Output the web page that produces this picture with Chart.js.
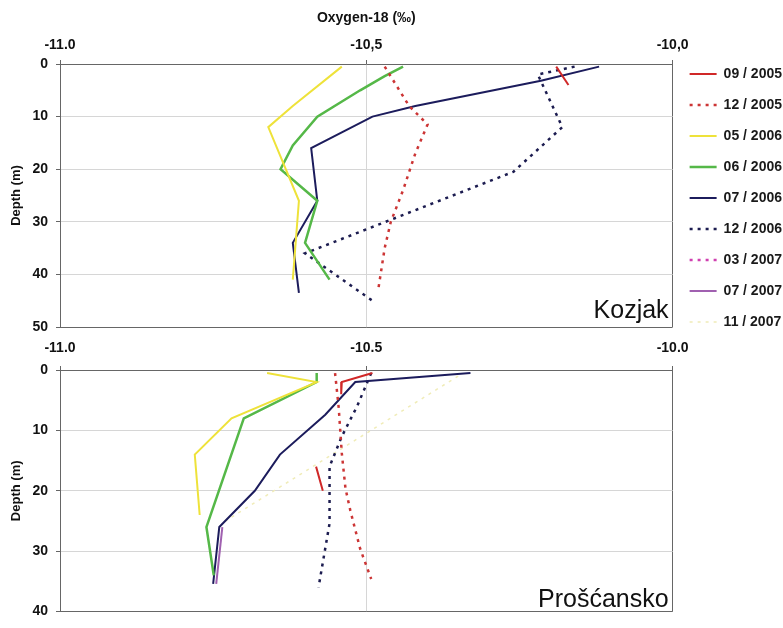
<!DOCTYPE html>
<html lang="en">
<head>
<meta charset="UTF-8">
<title>Oxygen-18 depth profiles - Kozjak and Prošćansko</title>
<script src="https://cdn.jsdelivr.net/npm/chart.js"></script>
<style>
  html, body { margin: 0; padding: 0; background: #fff; overflow: hidden; width: 783px; height: 628px; }
  #topWrap { position: absolute; left: 0; top: 0; width: 792px; height: 360px; }
  #bottomWrap { position: absolute; left: 0; top: 330px; width: 783px; height: 298px; z-index: 2; }
</style>
</head>
<body>

<div id="topWrap"><canvas id="kozjakChart"></canvas></div>
<div id="bottomWrap"><canvas id="proscanskoChart"></canvas></div>

<script>
// legend / series names
const seriesNames = ['09 / 2005', '12 / 2005', '05 / 2006', '06 / 2006', '07 / 2006',
                     '12 / 2006', '03 / 2007', '07 / 2007', '11 / 2007'];

// axis tick labels
const kozjakTickLabels = ['-11.0', '-10,5', '-10,0'];
const proscTickLabels = ['-11.0', '-10.5', '-10.0'];

// ---- Kozjak : oxygen-18 (permil) and depth (m) ----
const kozSep05O18 = [-10.19, -10.17];
const kozSep05Depth = [0.5, 4];
const kozDec05O18 = [-10.47, -10.43, -10.40, -10.42, -10.44, -10.46, -10.47, -10.48];
const kozDec05Depth = [0.5, 8, 11.5, 17, 24, 30, 35, 42.5];
const kozMay06O18 = [-10.54, -10.62, -10.66, -10.61, -10.62];
const kozMay06Depth = [0.5, 8, 12, 26, 41];
const kozJun06O18 = [-10.44, -10.47, -10.51, -10.58, -10.62, -10.64, -10.58, -10.60, -10.56];
const kozJun06Depth = [0.5, 2.3, 5, 10, 15.5, 20, 26, 34, 41];
const kozJul06O18 = [-10.12, -10.215, -10.42, -10.49, -10.59, -10.58, -10.62, -10.61];
const kozJul06Depth = [0.5, 3.2, 8, 10, 16, 26, 34, 43.5];
const kozDec06O18 = [-10.16, -10.22, -10.18, -10.26, -10.60, -10.49];
const kozDec06Depth = [0.5, 2, 12, 20.5, 36, 45];

// ---- Prošćansko ----
const proSep05O18 = [-10.49, -10.54, -10.541, null, -10.582, -10.571];
const proSep05Depth = [0.5, 2, 4, null, 16, 20];
const proDec05O18 = [-10.551, -10.545, -10.54, -10.534, -10.526, -10.51, -10.492];
const proDec05Depth = [0.5, 6.3, 13.8, 19.6, 23.3, 29.6, 34.6];
const proMay06O18 = [-10.662, -10.581, -10.72, -10.78, -10.772];
const proMay06Depth = [0.5, 2, 8, 14, 24];
const proJun06O18 = [-10.581, -10.581, -10.70, -10.761, -10.749];
const proJun06Depth = [0.5, 2, 8, 26, 34];
const proJul06O18 = [-10.33, -10.518, -10.567, -10.641, -10.682, -10.74, -10.75];
const proJul06Depth = [0.5, 2, 7.4, 14, 20, 26, 35.4];
const proDec06O18 = [-10.492, -10.515, -10.54, -10.56, -10.56, -10.578];
const proDec06Depth = [0.5, 6, 11, 16, 25.4, 36];
const proJul07O18 = [-10.735, -10.745];
const proJul07Depth = [26, 35.4];
const proNov07O18 = [-10.35, -10.73];
const proNov07Depth = [1, 25];

// line styles per series (same order as seriesNames)
const seriesStyles = [
  { color: '#d02828', width: 2, dash: [] },
  { color: '#cc3535', width: 2.5, dash: [3, 5] },
  { color: '#eee23a', width: 2, dash: [] },
  { color: '#55b848', width: 2.5, dash: [] },
  { color: '#1c1c5c', width: 2, dash: [] },
  { color: '#1c1c50', width: 2.5, dash: [3, 5] },
  { color: '#d040b0', width: 2.5, dash: [3, 5] },
  { color: '#a060b0', width: 2, dash: [] },
  { color: '#f0ecb8', width: 1.5, dash: [3, 5] }
];

const FONT = 'Arial, "Liberation Sans", Helvetica, sans-serif';

function toPoints(o18, depth) {
  return o18.map((v, i) => ({ x: v, y: depth[i] }));
}

function makeDatasets(series) {
  return seriesNames.map((name, i) => ({
    label: name,
    data: series[i] ? toPoints(series[i][0], series[i][1]) : [],
    borderColor: seriesStyles[i].color,
    backgroundColor: seriesStyles[i].color,
    borderWidth: seriesStyles[i].width,
    borderDash: seriesStyles[i].dash,
    pointRadius: 0,
    tension: 0,
    fill: false
  }));
}

// site name inside the plot, bottom right
const siteLabel = {
  id: 'siteLabel',
  afterDatasetsDraw(chart, args, opts) {
    const { ctx, chartArea } = chart;
    ctx.save();
    ctx.font = '25px ' + FONT;
    ctx.fillStyle = '#111';
    ctx.textAlign = 'right';
    ctx.textBaseline = 'alphabetic';
    ctx.fillText(opts.text, chartArea.right - 4, chartArea.bottom - opts.lift);
    ctx.restore();
  }
};

function xScale(tickLabels, height, withTitle) {
  return {
    type: 'linear',
    position: 'top',
    min: -11,
    max: -10,
    ticks: {
      stepSize: 0.5,
      padding: withTitle ? 6 : 9,
      color: '#111',
      font: { family: FONT, size: 14, weight: 'bold' },
      callback: (v, i) => tickLabels[i]
    },
    grid: {
      color: c => (c.tick && c.tick.value === -10) ? '#666' : '#d6d6d6',
      tickColor: '#666',
      tickLength: 4
    },
    border: { display: true, color: '#666', width: 1 },
    title: {
      display: withTitle,
      text: 'Oxygen-18 (‰)',
      color: '#111',
      font: { family: FONT, size: 14, weight: 'bold' },
      padding: { top: 10, bottom: 0 }
    },
    afterFit(s) { s.height = height; }
  };
}

function yScale(maxDepth) {
  return {
    type: 'linear',
    position: 'left',
    reverse: true,
    min: 0,
    max: maxDepth,
    ticks: {
      stepSize: 10,
      padding: 8,
      color: '#111',
      font: { family: FONT, size: 14, weight: 'bold' }
    },
    grid: {
      color: c => (c.tick && c.tick.value === maxDepth) ? '#666' : '#d6d6d6',
      tickColor: '#666',
      tickLength: 4
    },
    border: { display: true, color: '#666', width: 1 },
    title: {
      display: true,
      text: 'Depth (m)',
      color: '#111',
      font: { family: FONT, size: 13, weight: 'bold' },
      padding: { top: 9, bottom: 0 }
    },
    afterFit(s) { s.width = 60; }
  };
}

// Kozjak (top, carries the legend)
const kozjakChart = new Chart(document.getElementById('kozjakChart'), {
  type: 'line',
  data: {
    datasets: makeDatasets([
      [kozSep05O18, kozSep05Depth],
      [kozDec05O18, kozDec05Depth],
      [kozMay06O18, kozMay06Depth],
      [kozJun06O18, kozJun06Depth],
      [kozJul06O18, kozJul06Depth],
      [kozDec06O18, kozDec06Depth],
      null, null, null
    ])
  },
  options: {
    responsive: true,
    maintainAspectRatio: false,
    animation: false,
    layout: { padding: 0 },
    scales: {
      x: xScale(kozjakTickLabels, 64, true),
      y: yScale(50),
      xb: {
        type: 'linear',
        position: 'bottom',
        display: true,
        min: 0,
        max: 1,
        grid: { display: false },
        border: { display: false },
        ticks: { display: false },
        afterFit(s) { s.height = 33; }
      }
    },
    plugins: {
      tooltip: { enabled: false },
      siteLabel: { text: 'Kozjak', lift: 9 },
      legend: {
        position: 'right',
        align: 'start',
        title: { display: true, text: ' ', font: { size: 10 }, padding: { top: 38, bottom: 0 } },
        labels: {
          color: '#1a1a1a',
          font: { family: FONT, size: 14, weight: 'bold' },
          padding: 17,
          usePointStyle: true,
          pointStyle: 'line',
          pointStyleWidth: 27,
          generateLabels(chart) {
            return chart.data.datasets.map((ds, i) => ({
              text: ds.label,
              fillStyle: ds.borderColor,
              strokeStyle: ds.borderColor,
              lineWidth: ds.borderWidth,
              lineDash: ds.borderDash,
              fontColor: '#1a1a1a',
              pointStyle: 'line',
              hidden: false,
              datasetIndex: i
            }));
          }
        }
      }
    }
  },
  plugins: [siteLabel]
});

// Prošćansko (bottom), right edge lined up with the Kozjak plot
const rightPad = 783 - kozjakChart.chartArea.right;

new Chart(document.getElementById('proscanskoChart'), {
  type: 'line',
  data: {
    datasets: makeDatasets([
      [proSep05O18, proSep05Depth],
      [proDec05O18, proDec05Depth],
      [proMay06O18, proMay06Depth],
      [proJun06O18, proJun06Depth],
      [proJul06O18, proJul06Depth],
      [proDec06O18, proDec06Depth],
      null,
      [proJul07O18, proJul07Depth],
      [proNov07O18, proNov07Depth]
    ])
  },
  options: {
    responsive: true,
    maintainAspectRatio: false,
    animation: false,
    layout: { padding: { top: 0, left: 0, right: rightPad, bottom: 6 } },
    scales: {
      x: xScale(proscTickLabels, 40, false),
      y: yScale(40)
    },
    plugins: {
      tooltip: { enabled: false },
      legend: { display: false },
      siteLabel: { text: 'Prošćansko', lift: 5 }
    }
  },
  plugins: [siteLabel]
});
</script>
</body>
</html>
